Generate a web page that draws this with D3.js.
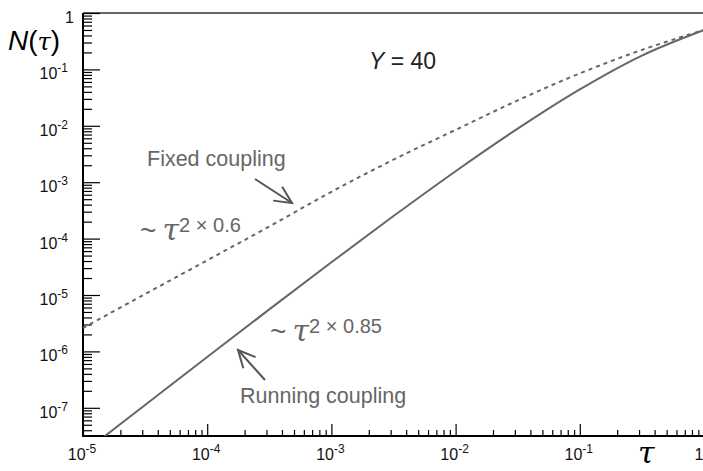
<!DOCTYPE html>
<html>
<head>
<meta charset="utf-8">
<script src="https://cdn.jsdelivr.net/npm/d3@7"></script>
<style>
  html, body { margin: 0; padding: 0; background: #fff; }
  svg { display: block; font-family: "Liberation Sans", Arial, Helvetica, sans-serif; }
</style>
</head>
<body>
<svg id="chart" width="703" height="471"></svg>
<script>
// ---- data ----
const xDecadeExps = [-5, -4, -3, -2, -1, 0];
const yDecadeExps = [-7, -6, -5, -4, -3, -2, -1, 0];
const tau = [1e-5, 3.162e-5, 1e-4, 3.162e-4, 1e-3, 3.162e-3, 1e-2, 3.162e-2, 1e-1, 0.3162, 1];
const fixedN = [2.60e-6, 1.04e-5, 4.12e-5, 1.64e-4, 6.76e-4, 2.51e-3, 8.47e-3, 2.82e-2, 8.49e-2, 0.222, 0.50];
const runningN = [1.58e-8, 1.12e-7, 7.94e-7, 5.56e-6, 3.80e-5, 2.51e-4, 1.567e-3, 8.91e-3, 4.42e-2, 0.176, 0.50];
const annotations = { fixed: "Fixed coupling", running: "Running coupling", title: "40" };

// ---- layout ----
const L = 83, R = 704, T = 13, B = 436;
const svg = d3.select("#chart");
const x = d3.scaleLog().domain([1e-5, 1]).range([L, R]);
const y = d3.scaleLog().domain([Math.pow(10, -7.5), 1]).range([B, T]);

// minor tick values
const xMinor = [], yMinor = [];
xDecadeExps.slice(0, -1).forEach(e => { for (let k = 2; k <= 9; k++) xMinor.push(k * Math.pow(10, e)); });
for (let e = -8; e < 0; e++) for (let k = 2; k <= 9; k++) {
  const v = k * Math.pow(10, e);
  if (v >= y.domain()[0] && v <= 1) yMinor.push(v);
}
const xMajor = xDecadeExps.map(e => Math.pow(10, e));
const yMajor = yDecadeExps.map(e => Math.pow(10, e));

// clip
svg.append("defs").append("clipPath").attr("id", "clip")
  .append("rect").attr("x", L).attr("y", T).attr("width", R - L).attr("height", B - T);

// top frame line
svg.append("line").attr("x1", L).attr("x2", 703).attr("y1", T).attr("y2", T)
  .attr("stroke", "#666").attr("stroke-width", 2);

// axes via d3.axis
function styleAxis(g) {
  g.select(".domain").remove();
  g.selectAll("text").remove();
  g.selectAll(".tick line").attr("stroke", "#000").attr("stroke-width", 1.2);
}
svg.append("g").attr("transform", `translate(${L},0)`)
  .call(d3.axisLeft(y).tickValues(yMinor).tickSize(-9).tickFormat(() => ""))
  .call(styleAxis);
svg.append("g").attr("transform", `translate(${L},0)`)
  .call(d3.axisLeft(y).tickValues(yMajor).tickSize(-17).tickFormat(() => ""))
  .call(styleAxis);
svg.append("g").attr("transform", `translate(0,${B})`)
  .call(d3.axisBottom(x).tickValues(xMinor).tickSize(-6).tickFormat(() => ""))
  .call(styleAxis);
svg.append("g").attr("transform", `translate(0,${B})`)
  .call(d3.axisBottom(x).tickValues(xMajor).tickSize(-12).tickFormat(() => ""))
  .call(styleAxis);

// axis lines
svg.append("line").attr("x1", L).attr("x2", L).attr("y1", T).attr("y2", B + 1)
  .attr("stroke", "#000").attr("stroke-width", 2);
svg.append("line").attr("x1", L - 1).attr("x2", 703).attr("y1", B).attr("y2", B)
  .attr("stroke", "#000").attr("stroke-width", 2);

// tick labels
function powLabel(sel, e) {
  if (e === 0) { sel.append("tspan").text("1"); return; }
  sel.append("tspan").text("10");
  sel.append("tspan").attr("dy", -7).attr("font-size", 12).text(String(e));
}
yDecadeExps.forEach(e => {
  const t = svg.append("text").attr("x", e === 0 ? 74 : 68).attr("y", y(Math.pow(10, e)) + 10)
    .attr("text-anchor", "end").attr("font-size", 16).attr("fill", "#111");
  powLabel(t, e);
});
xDecadeExps.forEach(e => {
  const t = svg.append("text").attr("x", e === 0 ? 699 : x(Math.pow(10, e)) - 1).attr("y", 460)
    .attr("text-anchor", "middle").attr("font-size", 16).attr("fill", "#111");
  powLabel(t, e);
});

// curves
const line = d3.line().x((d, i) => x(tau[i])).y(d => y(d)).curve(d3.curveCatmullRom.alpha(0.5));
const plot = svg.append("g").attr("clip-path", "url(#clip)");
plot.append("path").attr("d", line(fixedN)).attr("fill", "none")
  .attr("stroke", "#666").attr("stroke-width", 2).attr("stroke-dasharray", "4,4");
plot.append("path").attr("d", line(runningN)).attr("fill", "none")
  .attr("stroke", "#666").attr("stroke-width", 2);

// axis titles
const ny = svg.append("text").attr("x", 8).attr("y", 50).attr("font-size", 28).attr("fill", "#000");
ny.append("tspan").attr("font-style", "italic").text("N");
ny.append("tspan").text("(");
ny.append("tspan").attr("font-family", "'DejaVu Serif', 'Liberation Serif', serif").attr("font-style", "italic").attr("font-size", 24).text("τ");
ny.append("tspan").text(")");

svg.append("text").attr("x", 638).attr("y", 463)
  .attr("font-family", "'DejaVu Serif', 'Liberation Serif', serif").attr("font-style", "italic")
  .attr("font-size", 30).attr("fill", "#000").text("τ");

// Y = 40
const yt = svg.append("text").attr("x", 369).attr("y", 69).attr("font-size", 23).attr("fill", "#222");
yt.append("tspan").attr("font-style", "italic").text("Y");
yt.append("tspan").text(" = " + annotations.title);

// annotations
const gray = "#666";
svg.append("text").attr("x", 147).attr("y", 166).attr("font-size", 21.5).attr("fill", gray).text(annotations.fixed);
svg.append("text").attr("x", 240).attr("y", 403).attr("font-size", 21.5).attr("fill", gray).text(annotations.running);

function scaling(x0, yb, exp) {
  const t = svg.append("text").attr("x", x0).attr("y", yb).attr("fill", gray).attr("font-size", 22);
  t.append("tspan").attr("font-size", 28).text("~");
  t.append("tspan").text(" ");
  t.append("tspan").attr("font-family", "'DejaVu Serif', 'Liberation Serif', serif").attr("font-style", "italic").attr("font-size", 30).text("τ");
  t.append("tspan").attr("dy", -8).attr("font-size", 20).text("2 × " + exp);
}
scaling(140, 240, "0.6");
scaling(270, 341, "0.85");

// arrows
function arrow(x1, y1, x2, y2) {
  const g = svg.append("g").attr("stroke", "#555").attr("stroke-width", 2).attr("fill", "none");
  g.append("line").attr("x1", x1).attr("y1", y1).attr("x2", x2).attr("y2", y2);
  const a = Math.atan2(y2 - y1, x2 - x1), len = 19, sp = 0.45;
  g.append("path").attr("d",
    `M${x2 - len * Math.cos(a - sp)},${y2 - len * Math.sin(a - sp)} L${x2},${y2} L${x2 - len * Math.cos(a + sp)},${y2 - len * Math.sin(a + sp)}`);
}
arrow(255, 179, 292, 203);
arrow(265, 380, 238, 350);
</script>
</body>
</html>
